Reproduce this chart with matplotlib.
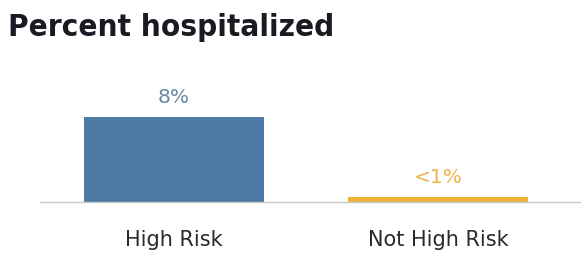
import matplotlib
matplotlib.use("Agg")
import matplotlib.pyplot as plt

# data
categories = ["High Risk", "Not High Risk"]
values = [8, 0.5]
value_labels = ["8%", "<1%"]
bar_colors = ["#4f7aa5", "#ecb234"]
label_colors = ["#6b87a3", "#eab54a"]

fig = plt.figure(figsize=(5.81, 2.62), dpi=100)
ax = fig.add_axes([40 / 581, 1 - 202 / 262, 540 / 581, 142 / 262])

x = range(len(categories))
ax.bar(x, values, width=0.68, color=bar_colors)
for xi, v, lab, c in zip(x, values, value_labels, label_colors):
    ax.annotate(lab, (xi, v), xytext=(0, 7), textcoords="offset points",
                ha="center", va="bottom", color=c, fontsize=14.5)

ax.set_xlim(-0.508, 1.538)
ax.set_ylim(0, 8 * 142 / 85)
ax.set_xticks(list(x))
ax.set_xticklabels(categories, fontsize=15, color="#2a2a2a")
ax.tick_params(axis="x", length=0, pad=20)
ax.set_yticks([])
for s in ["top", "right", "left"]:
    ax.spines[s].set_visible(False)
ax.spines["bottom"].set_color("#c8c8c8")
ax.spines["bottom"].set_linewidth(1)

fig.text(8 / 581, 1 - 27 / 262, "Percent hospitalized", fontsize=22.5, fontweight="bold",
         fontstretch="condensed", va="center", ha="left", color="#1a1a22")

fig.savefig("out.png", dpi=100, facecolor="white")
